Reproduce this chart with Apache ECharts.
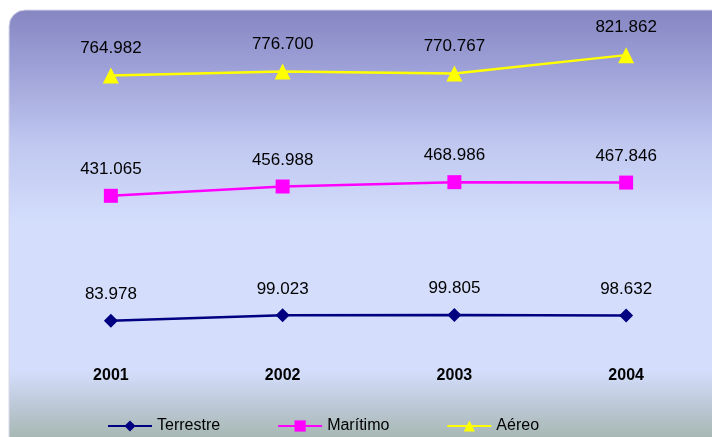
<!DOCTYPE html>
<html><head><meta charset="utf-8">
<script src="https://cdn.jsdelivr.net/npm/echarts@6/dist/echarts.min.js"></script>
<style>html,body{margin:0;padding:0;background:#fff}#c{width:712px;height:437px}</style>
</head><body><div id="c"></div>
<script>
const categories = ['2001', '2002', '2003', '2004'];
const terrestre = [83.978, 99.023, 99.805, 98.632];
const maritimo = [431.065, 456.988, 468.986, 467.846];
const aereo = [764.982, 776.700, 770.767, 821.862];
const seriesNames = ['Terrestre', 'Marítimo', 'Aéreo'];

const fmt = v => v.toFixed(3);
const chart = echarts.init(document.getElementById('c'));
const lbl = {show: true, position: 'top', distance: 11, color: '#000', fontSize: 17, fontFamily: 'Liberation Sans, Arial, sans-serif', formatter: p => fmt(p.value)};
chart.setOption({
  animation: false,
  textStyle: {fontFamily: 'Liberation Sans, Arial, sans-serif'},
  graphic: [{
    type: 'rect', z: -10, silent: true,
    shape: {x: 9, y: 10, width: 720, height: 450, r: 16},
    style: {
      fill: new echarts.graphic.LinearGradient(0, 0, 0, 1, [
        {offset: 0, color: '#8686C2'},
        {offset: 0.12, color: '#9C9FD6'},
        {offset: 0.30, color: '#C0C8F0'},
        {offset: 0.48, color: '#D4DEFC'},
        {offset: 0.80, color: '#D4DEFC'},
        {offset: 0.88, color: '#BCC8D6'},
        {offset: 1, color: '#98AC98'}
      ]),
      stroke: '#D8D8E8', lineWidth: 1
    }
  }],
  grid: {left: 25, right: 0, top: 27, bottom: 86},
  xAxis: {
    type: 'category', data: categories, boundaryGap: true,
    axisLine: {show: false}, axisTick: {show: false}, splitLine: {show: false},
    axisLabel: {fontWeight: 'bold', fontSize: 16, color: '#000', margin: 17}
  },
  yAxis: {type: 'value', min: 0, max: 900, show: false, splitLine: {show: false}},
  legend: {
    left: 102, top: 413, itemGap: 57, itemWidth: 44, itemHeight: 14,
    textStyle: {fontSize: 16, color: '#000'},
    data: seriesNames
  },
  series: [
    {name: seriesNames[0], type: 'line', data: terrestre, symbol: 'diamond', symbolSize: 14,
     lineStyle: {color: '#000080', width: 2.5}, itemStyle: {color: '#000080'}, label: lbl},
    {name: seriesNames[1], type: 'line', data: maritimo, symbol: 'rect', symbolSize: 14,
     lineStyle: {color: '#FF00FF', width: 2.5}, itemStyle: {color: '#FF00FF'}, label: lbl},
    {name: seriesNames[2], type: 'line', data: aereo, symbol: 'triangle', symbolSize: 16,
     lineStyle: {color: '#FFFF00', width: 2.5}, itemStyle: {color: '#FFFF00'}, label: lbl}
  ]
});
</script></body></html>
